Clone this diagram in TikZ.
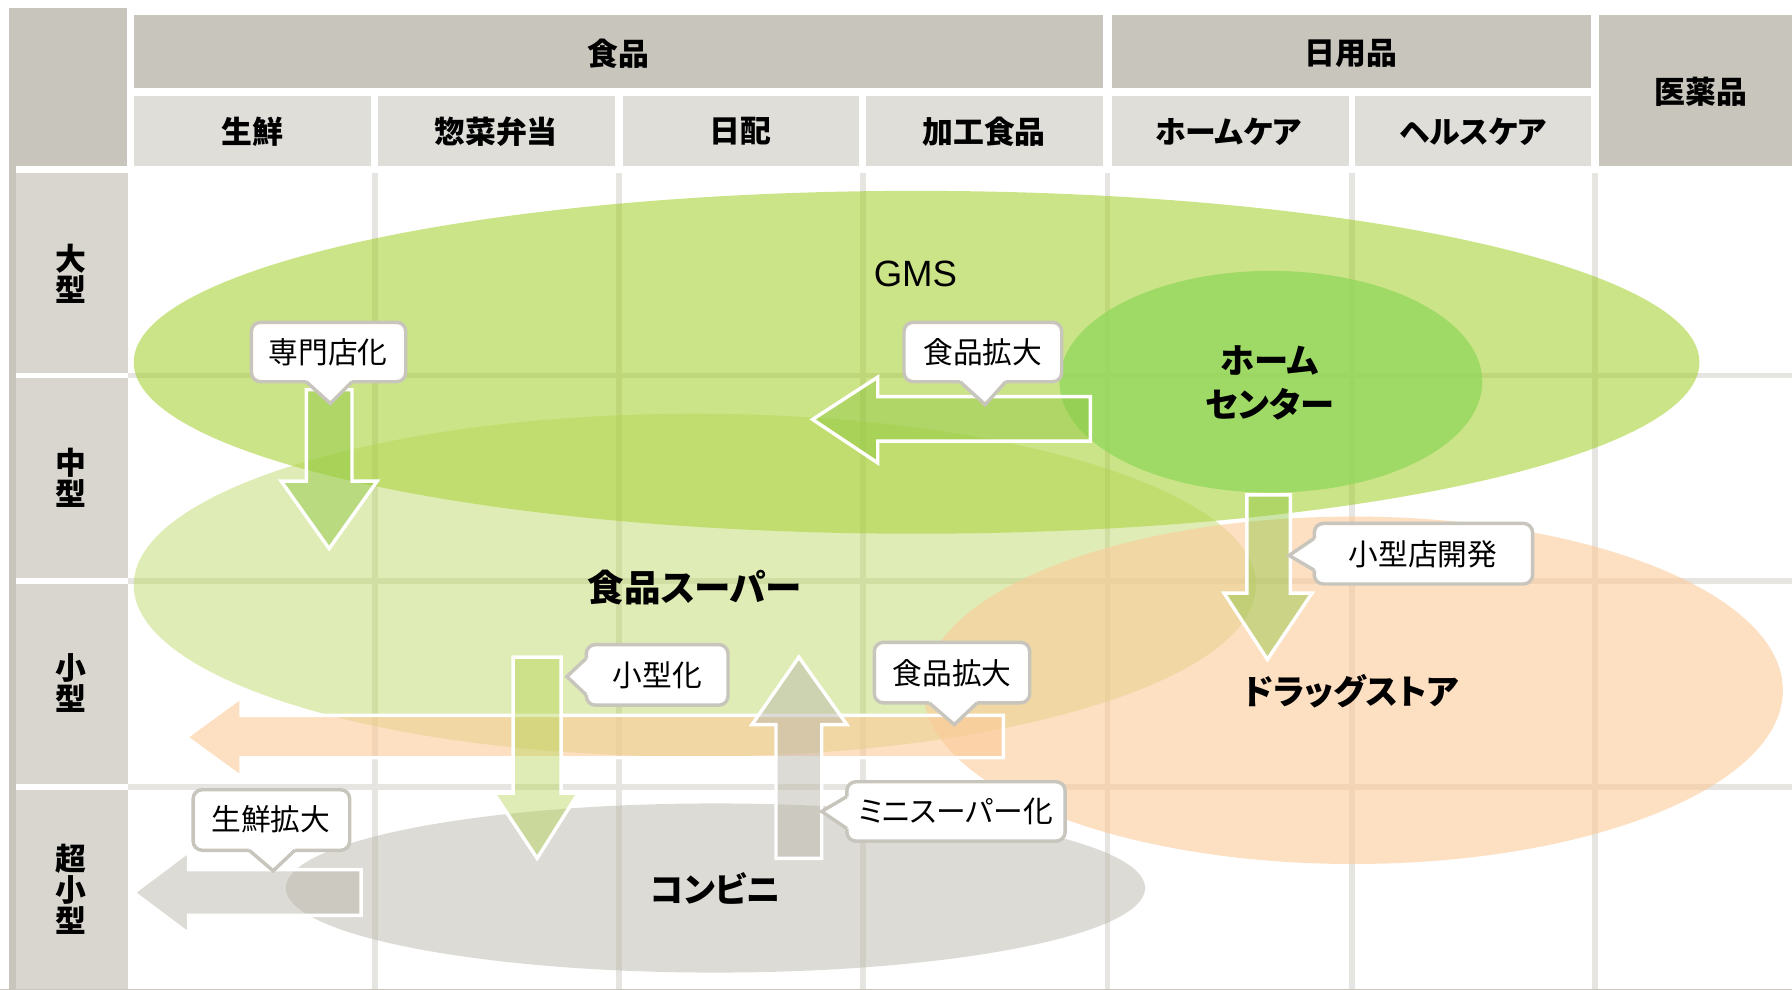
\documentclass[tikz,border=0pt]{standalone}
\usepackage{fontspec}
\setmainfont{Noto Sans CJK JP}
\newfontfamily\paltfont[RawFeature=+palt]{Noto Sans CJK JP}
\newfontfamily\latinfont{Liberation Sans}
\definecolor{hdrdark}{HTML}{C8C5BD}
\definecolor{subgray}{HTML}{DFDED9}
\definecolor{rowgray}{HTML}{D9D6CF}
\definecolor{gridgray}{HTML}{E6E5E1}
\definecolor{gmsgreen}{HTML}{9BCB13}
\definecolor{supgreen}{HTML}{B3D44F}
\definecolor{hcgreen}{HTML}{94D85E}
\definecolor{drugpeach}{HTML}{FCCA99}
\definecolor{cvsgray}{HTML}{BDB9AD}
\definecolor{arrgreen}{HTML}{8CC63F}
\definecolor{callgray}{HTML}{C8C5BD}
\newcommand\cbdown[8]{%
  \draw[callbox] (#1,#2) rectangle (#3,#4);
  \fill[white] (#5,#4-4) -- (#5,#4) -- (#7,#8) -- (#6,#4) -- (#6,#4-4) -- cycle;
  \draw[callptr] (#5,#4) -- (#7,#8) -- (#6,#4);}
\newcommand\cbleft[8]{%
  \draw[callbox] (#1,#2) rectangle (#3,#4);
  \fill[white] (#1+4,#5) -- (#1,#5) -- (#7,#8) -- (#1,#6) -- (#1+4,#6) -- cycle;
  \draw[callptr] (#1,#5) -- (#7,#8) -- (#1,#6);}
\begin{document}
\begin{tikzpicture}[x=0.5pt,y=-0.5pt,
  hdrtext/.style={font=\paltfont\fontsize{13.5}{13.5}\selectfont\bfseries, inner sep=0pt},
  rowtext/.style={font=\fontsize{13.5}{12.5}\selectfont\bfseries, align=center, inner sep=0pt},
  calltext/.style={font=\paltfont\fontsize{13}{13}\selectfont, inner sep=0pt},
  bigtext/.style={font=\paltfont\fontsize{15}{19}\selectfont\bfseries, align=center, inner sep=0pt},
  gridline/.style={draw=gridgray, line width=2.5pt},
  blockarrow/.style={draw=white, line width=1.5pt, line join=miter, miter limit=10},
  callbox/.style={fill=white, draw=callgray, line width=1.5pt, rounded corners=4pt},
  callptr/.style={draw=callgray, line width=1.5pt, line join=miter},
]
\useasboundingbox (0,0) rectangle (1568,866);
\fill[white] (0,0) rectangle (1568,866);

% ---- header ----
\fill[hdrdark] (8,7) rectangle (111,145);
\fill[hdrdark] (8,7) rectangle (14,866);
\fill[hdrdark] (117,13) rectangle (965,77);
\fill[hdrdark] (973,13) rectangle (1392,77);
\fill[hdrdark] (1399,13) rectangle (1568,145);
\fill[subgray] (117,84) rectangle (325,145);
\fill[subgray] (331,84) rectangle (538,145);
\fill[subgray] (545,84) rectangle (752,145);
\fill[subgray] (758,84) rectangle (965,145);
\fill[subgray] (973,84) rectangle (1180,145);
\fill[subgray] (1186,84) rectangle (1392,145);
\fill[rowgray] (14,151) rectangle (112,326);
\fill[rowgray] (14,331) rectangle (112,506);
\fill[rowgray] (14,511) rectangle (112,686);
\fill[rowgray] (14,691) rectangle (112,866);

\node[hdrtext] (hfood) at (541,47) {食品};
\node[hdrtext] (hdaily) at (1182,47) {日用品};
\node[hdrtext] (hmed) at (1488,80) {医薬品};
\node[hdrtext] (c1) at (221,115) {生鮮};
\node[hdrtext] (c2) at (434,115) {惣菜弁当};
\node[hdrtext] (c3) at (648,115) {日配};
\node[hdrtext] (c4) at (861,115) {加工食品};
\node[hdrtext] (c5) at (1075,115) {ホームケア};
\node[hdrtext] (c6) at (1289,115) {ヘルスケア};
\node[rowtext] (r1) at (62,240) {大\\型};
\node[rowtext] (r2) at (62,418) {中\\型};
\node[rowtext] (r3) at (62,598) {小\\型};
\node[rowtext] (r4) at (62,778) {超\\小\\型};

% ---- grid ----
\foreach \gx in {328,541.5,755,969,1183,1395.5}
  \draw[gridline] (\gx,151) -- (\gx,866);
\foreach \gy in {328.5,508.5,688.5}
  \draw[gridline] (112,\gy) -- (1568,\gy);
\draw[callgray, line width=0.5pt] (0,865.5) -- (1568,865.5);

% ---- ellipses ----
\fill[gmsgreen, opacity=0.5] (802,317) ellipse [x radius=685, y radius=150];
\fill[supgreen, opacity=0.42] (608,512) ellipse [x radius=491, y radius=150];
\fill[hcgreen, opacity=0.8] (1112,334) ellipse [x radius=185, y radius=97];
\fill[drugpeach, opacity=0.6] (1184,604) ellipse [x radius=376, y radius=152];
\fill[cvsgray, opacity=0.5] (626,777) ellipse [x radius=376, y radius=74];

% ---- block arrows ----
\filldraw[blockarrow, fill=drugpeach, fill opacity=0.6]
  (878,626) -- (211,626) -- (211,610) -- (163,645) -- (211,680) -- (211,663) -- (878,663) -- cycle;
\filldraw[blockarrow, fill=arrgreen, fill opacity=0.45]
  (268,341) -- (308,341) -- (308,421) -- (330,421) -- (288,480) -- (246,421) -- (268,421) -- cycle;
\filldraw[blockarrow, fill=arrgreen, fill opacity=0.45]
  (954,347) -- (768,347) -- (768,330) -- (711,367) -- (768,405) -- (768,386) -- (954,386) -- cycle;
\filldraw[blockarrow, fill=arrgreen, fill opacity=0.45]
  (1091,433) -- (1129,433) -- (1129,519) -- (1148,519) -- (1109,577) -- (1071,519) -- (1091,519) -- cycle;
\filldraw[blockarrow, fill=supgreen, fill opacity=0.42]
  (449,575) -- (491,575) -- (491,694) -- (506,694) -- (470,751) -- (432,694) -- (449,694) -- cycle;
\filldraw[blockarrow, fill=cvsgray, fill opacity=0.5]
  (679,751) -- (719,751) -- (719,634) -- (741,634) -- (699,575) -- (658,634) -- (679,634) -- cycle;
\filldraw[blockarrow, fill=cvsgray, fill opacity=0.5]
  (316,761) -- (165,761) -- (165,745) -- (117,781) -- (165,817) -- (165,801) -- (316,801) -- cycle;

% ---- callouts ----
\cbdown{220}{282}{355}{334}{268}{308}{289}{353}
\node[calltext] (k1) at (287,308) {専門店化};
\cbdown{791}{282}{929}{334}{840}{880}{862}{354}
\node[calltext] (k2) at (860,308) {食品拡大};
\cbleft{1150}{458}{1341}{511}{471}{499}{1128}{486}
\node[calltext] (k3) at (1245,485) {小型店開発};
\cbleft{513}{564}{637}{617}{576}{608}{496}{592}
\node[calltext] (k4) at (575,591) {小型化};
\cbdown{765}{562}{901}{615}{813}{855}{835}{634}
\node[calltext] (k5) at (833,589) {食品拡大};
\cbleft{741}{684}{932}{736}{697}{725}{719}{710}
\node[calltext] (k6) at (836,710) {ミニスーパー化};
\cbdown{169}{691}{306}{744}{218}{258}{239}{762}
\node[calltext] (k7) at (237,717) {生鮮拡大};

% ---- labels ----
\node[font=\latinfont\fontsize{16}{16}\selectfont, inner sep=0pt] (gms) at (801,240) {GMS};
\node[bigtext, font=\paltfont\fontsize{16}{16}\selectfont\bfseries] (sup) at (608,514) {食品スーパー};
\node[bigtext] (hc) at (1111,335) {ホーム\\センター};
\node[bigtext, font=\paltfont\fontsize{15}{15}\selectfont\bfseries] (drug) at (1182,605) {ドラッグストア};
\node[bigtext, font=\paltfont\fontsize{15}{15}\selectfont\bfseries] (cvs) at (626,777) {コンビニ};
\end{tikzpicture}
\end{document}
